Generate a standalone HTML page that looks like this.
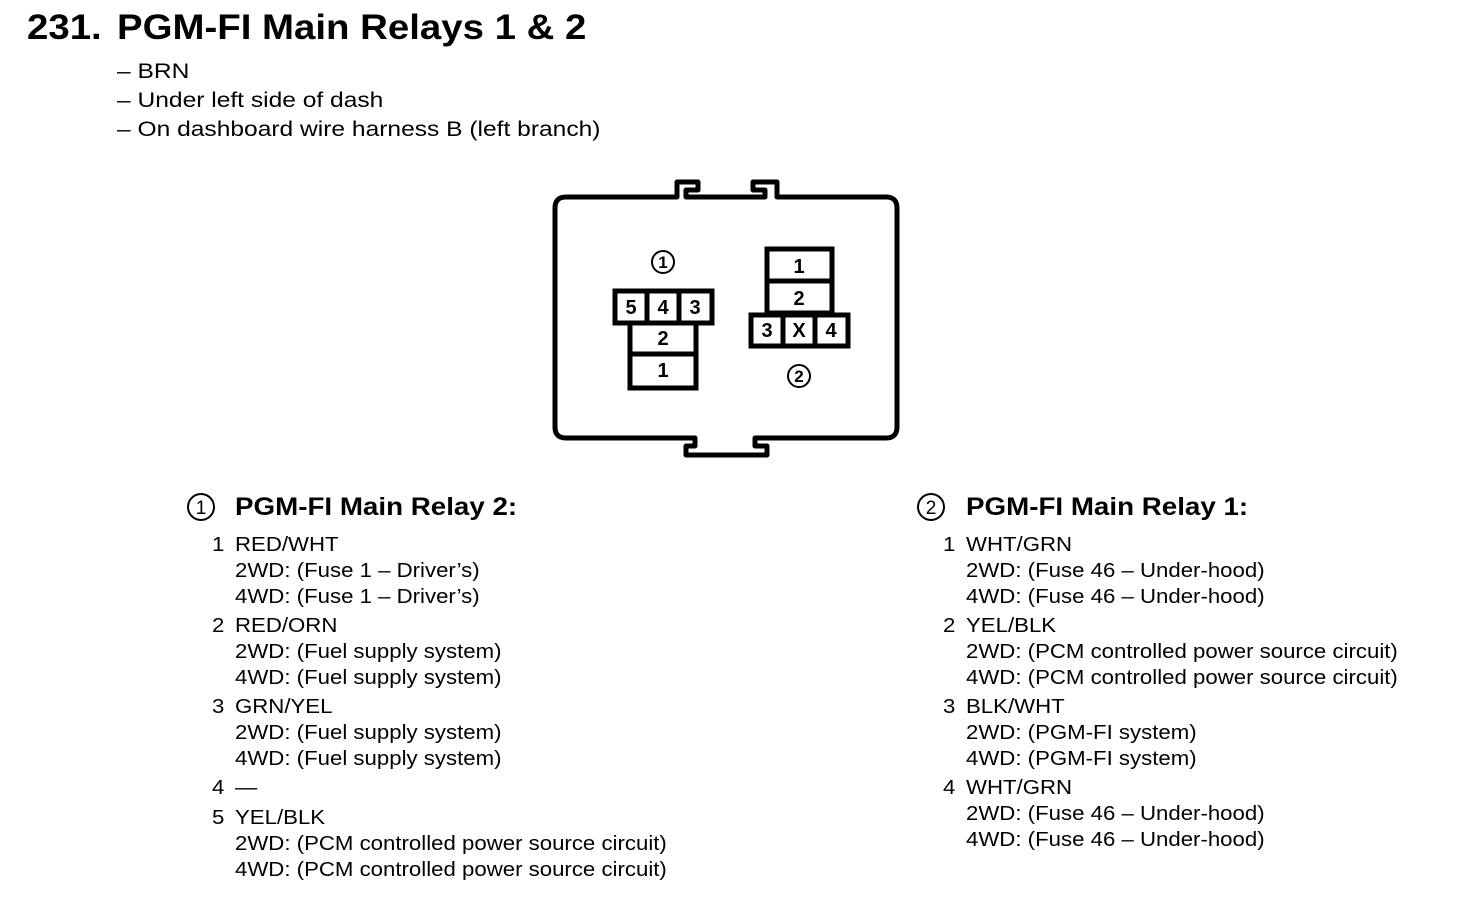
<!DOCTYPE html>
<html><head><meta charset="utf-8"><style>
body{margin:0;width:1472px;height:902px;background:#fff;position:relative;overflow:hidden;font-family:"Liberation Sans",Arial,sans-serif;color:#000}
.t{position:absolute;white-space:nowrap;line-height:24px;font-size:20.5px;transform-origin:0 50%;transform:scaleX(1.083)}
.b{font-weight:bold}
</style></head><body>
<div class="t b" style="left:27px;top:8px;font-size:35px;line-height:40px;transform:scaleX(1.097)">231.</div>
<div class="t b" style="left:117px;top:8px;font-size:35px;line-height:40px;transform:scaleX(1.097)">PGM-FI Main Relays 1 &amp; 2</div>
<div class="t" style="left:117px;top:60px;font-size:21px;transform:scaleX(1.17)">– BRN</div>
<div class="t" style="left:117px;top:89px;font-size:21px;transform:scaleX(1.17)">– Under left side of dash</div>
<div class="t" style="left:117px;top:118px;font-size:21px;transform:scaleX(1.17)">– On dashboard wire harness B (left branch)</div>

<svg style="position:absolute;left:0;top:0" width="1472" height="902">
<g fill="none" stroke="#000" stroke-width="5" stroke-linejoin="round">
<path d="M686,197 L686,190 L698,190 L698,182 L677,182 L677,197 L566,197 Q555,197 555,208 L555,427 Q555,438 566,438 L695,438 L695,446 L686,446 L686,455 L767,455 L767,446 L755,446 L755,438 L886,438 Q897,438 897,427 L897,208 Q897,197 886,197 L777,197 L777,182 L753,182 L753,190 L765,190 L765,197 Z"/>
</g>
<g stroke="#000" stroke-width="5" fill="#fff">
<rect x="615" y="291" width="97" height="32"/>
<rect x="630" y="323" width="66" height="65"/>
<line x1="630" y1="354" x2="696" y2="354"/>
<line x1="647" y1="291" x2="647" y2="323"/>
<line x1="679" y1="291" x2="679" y2="323"/>
<rect x="767" y="249" width="65" height="64"/>
<line x1="767" y1="281" x2="832" y2="281"/>
<rect x="751" y="315" width="97" height="31"/>
<line x1="783" y1="315" x2="783" y2="346"/>
<line x1="815" y1="315" x2="815" y2="346"/>
</g>
<g stroke="#000" stroke-width="2" fill="none">
<circle cx="663" cy="262" r="11"/><circle cx="799" cy="376" r="11"/>
<circle cx="201" cy="507" r="13"/><circle cx="931" cy="507" r="13"/>
</g>
<g font-family="Liberation Sans,Arial,sans-serif" font-weight="bold" font-size="20" text-anchor="middle">
<text x="631" y="314">5</text><text x="663" y="314">4</text><text x="695" y="314">3</text>
<text x="663" y="345">2</text><text x="663" y="377">1</text>
<text x="799" y="273">1</text><text x="799" y="305">2</text>
<text x="767" y="337">3</text><text x="799" y="337">X</text><text x="831" y="337">4</text>
</g>
<g font-family="Liberation Sans,Arial,sans-serif" font-size="17" font-weight="bold" text-anchor="middle">
<text x="663" y="268">1</text><text x="799" y="382">2</text>
<text x="201" y="514" font-size="19" font-weight="normal">1</text><text x="931" y="514" font-size="19" font-weight="normal">2</text>
</g>
</svg>

<div class="t b" style="left:235px;top:492px;font-size:25px;line-height:30px;transform:scaleX(1.11)">PGM-FI Main Relay 2:</div>
<div class="t" style="left:212px;top:533px">1</div><div class="t" style="left:235px;top:533px">RED/WHT</div>
<div class="t" style="left:235px;top:559px">2WD: (Fuse 1 – Driver’s)</div>
<div class="t" style="left:235px;top:585px">4WD: (Fuse 1 – Driver’s)</div>
<div class="t" style="left:212px;top:614px">2</div><div class="t" style="left:235px;top:614px">RED/ORN</div>
<div class="t" style="left:235px;top:640px">2WD: (Fuel supply system)</div>
<div class="t" style="left:235px;top:666px">4WD: (Fuel supply system)</div>
<div class="t" style="left:212px;top:695px">3</div><div class="t" style="left:235px;top:695px">GRN/YEL</div>
<div class="t" style="left:235px;top:721px">2WD: (Fuel supply system)</div>
<div class="t" style="left:235px;top:747px">4WD: (Fuel supply system)</div>
<div class="t" style="left:212px;top:776px">4</div><div class="t" style="left:235px;top:776px">—</div>
<div class="t" style="left:212px;top:806px">5</div><div class="t" style="left:235px;top:806px">YEL/BLK</div>
<div class="t" style="left:235px;top:832px">2WD: (PCM controlled power source circuit)</div>
<div class="t" style="left:235px;top:858px">4WD: (PCM controlled power source circuit)</div>

<div class="t b" style="left:966px;top:492px;font-size:25px;line-height:30px;transform:scaleX(1.11)">PGM-FI Main Relay 1:</div>
<div class="t" style="left:943px;top:533px">1</div><div class="t" style="left:966px;top:533px">WHT/GRN</div>
<div class="t" style="left:966px;top:559px">2WD: (Fuse 46 – Under-hood)</div>
<div class="t" style="left:966px;top:585px">4WD: (Fuse 46 – Under-hood)</div>
<div class="t" style="left:943px;top:614px">2</div><div class="t" style="left:966px;top:614px">YEL/BLK</div>
<div class="t" style="left:966px;top:640px">2WD: (PCM controlled power source circuit)</div>
<div class="t" style="left:966px;top:666px">4WD: (PCM controlled power source circuit)</div>
<div class="t" style="left:943px;top:695px">3</div><div class="t" style="left:966px;top:695px">BLK/WHT</div>
<div class="t" style="left:966px;top:721px">2WD: (PGM-FI system)</div>
<div class="t" style="left:966px;top:747px">4WD: (PGM-FI system)</div>
<div class="t" style="left:943px;top:776px">4</div><div class="t" style="left:966px;top:776px">WHT/GRN</div>
<div class="t" style="left:966px;top:802px">2WD: (Fuse 46 – Under-hood)</div>
<div class="t" style="left:966px;top:828px">4WD: (Fuse 46 – Under-hood)</div>
</body></html>
